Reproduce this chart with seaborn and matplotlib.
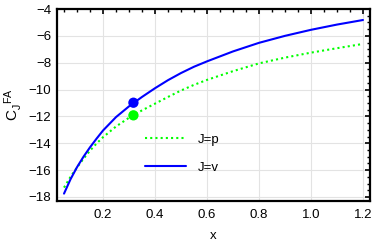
import matplotlib
matplotlib.use("Agg")
import matplotlib.pyplot as plt
import seaborn as sns
import pandas as pd
from matplotlib.ticker import MultipleLocator
from matplotlib.lines import Line2D

# ---- data ----
x_vals = [0.05, 0.075, 0.1, 0.125, 0.15, 0.175, 0.2, 0.25, 0.3, 0.35, 0.4,
          0.45, 0.5, 0.55, 0.6, 0.7, 0.8, 0.9, 1.0, 1.1, 1.2]
c_v = [-17.75, -16.68, -15.78, -15.0, -14.3, -13.66, -13.05, -12.05, -11.25,
       -10.55, -9.9, -9.3, -8.77, -8.3, -7.9, -7.16, -6.52, -6.0, -5.55,
       -5.16, -4.82]
c_p = [-17.3, -16.5, -15.8, -15.15, -14.55, -14.02, -13.55, -12.75, -12.1,
       -11.55, -11.05, -10.55, -10.07, -9.65, -9.28, -8.63, -8.05, -7.62,
       -7.25, -6.92, -6.6]
mark_x = [0.317]
mark_v = [-10.98]
mark_p = [-11.92]
labels = ["J=p", "J=v"]
x_ticks = [0.2, 0.4, 0.6, 0.8, 1.0, 1.2]
y_ticks = [-18, -16, -14, -12, -10, -8, -6, -4]

sns.set_theme(style="white")
plt.rcParams["font.family"] = ["Liberation Sans", "DejaVu Sans"]
plt.rcParams["mathtext.fontset"] = "custom"
plt.rcParams["mathtext.rm"] = "Liberation Sans"
plt.rcParams["mathtext.it"] = "Liberation Sans"
plt.rcParams["text.color"] = "black"
plt.rcParams["axes.labelcolor"] = "black"
plt.rcParams["xtick.color"] = "black"
plt.rcParams["ytick.color"] = "black"

df = pd.DataFrame({"x": x_vals + x_vals,
                   "C": c_p + c_v,
                   "J": [labels[0]] * len(x_vals) + [labels[1]] * len(x_vals)})

fig = plt.figure(figsize=(3.74, 2.47), dpi=100)
ax = fig.add_axes([57 / 374, 1 - 201 / 247, 313 / 374, 192 / 247])

green = "#00ff00"
blue = "#0000ff"

sns.lineplot(data=df[df.J == labels[0]], x="x", y="C", ax=ax, color=green,
             linewidth=1.5, legend=False)
ax.lines[-1].set_linestyle((0, (1, 1.5)))
sns.lineplot(data=df[df.J == labels[1]], x="x", y="C", ax=ax, color=blue,
             linewidth=1.5, legend=False)
sns.scatterplot(x=mark_x, y=mark_v, ax=ax, color=blue, s=55, edgecolor="none", zorder=5)
sns.scatterplot(x=mark_x, y=mark_p, ax=ax, color=green, s=55, edgecolor="none", zorder=5)

ax.set_xlim(0.023, 1.227)
ax.set_ylim(-18.3, -4)
ax.set_xticks(x_ticks)
ax.set_yticks(y_ticks)
ax.xaxis.set_minor_locator(MultipleLocator(0.05))
ax.yaxis.set_minor_locator(MultipleLocator(0.5))
ax.grid(True, which="major", color="#e3e3e3", linewidth=0.8)
ax.set_axisbelow(True)
ax.tick_params(which="both", direction="in", top=True, right=True,
               color="black", labelcolor="black", labelsize=9.5)
ax.tick_params(axis="x", which="major", pad=6)
ax.tick_params(axis="y", which="major", pad=4)
ax.tick_params(which="major", length=3.5, width=1.2)
ax.tick_params(which="minor", length=2, width=1.0)
for s in ax.spines.values():
    s.set_color("black")
    s.set_linewidth(1.6)

ax.set_xlabel("x", fontsize=9.5, labelpad=6, color="black")
ax.set_ylabel(r"$\mathrm{C_J^{\ \ FA}}$", fontsize=11, labelpad=3, color="black")

handles = [Line2D([], [], color=green, linewidth=1.5, linestyle=(0, (1, 1.5))),
           Line2D([], [], color=blue, linewidth=1.5)]
ax.legend(handles, labels, loc="upper left", bbox_to_anchor=(0.281, 0.35),
          frameon=False, fontsize=9.5, handlelength=3.1, handletextpad=0.9,
          labelspacing=1.2, borderpad=0, borderaxespad=0, labelcolor="black")

fig.savefig("out.png", dpi=100)
